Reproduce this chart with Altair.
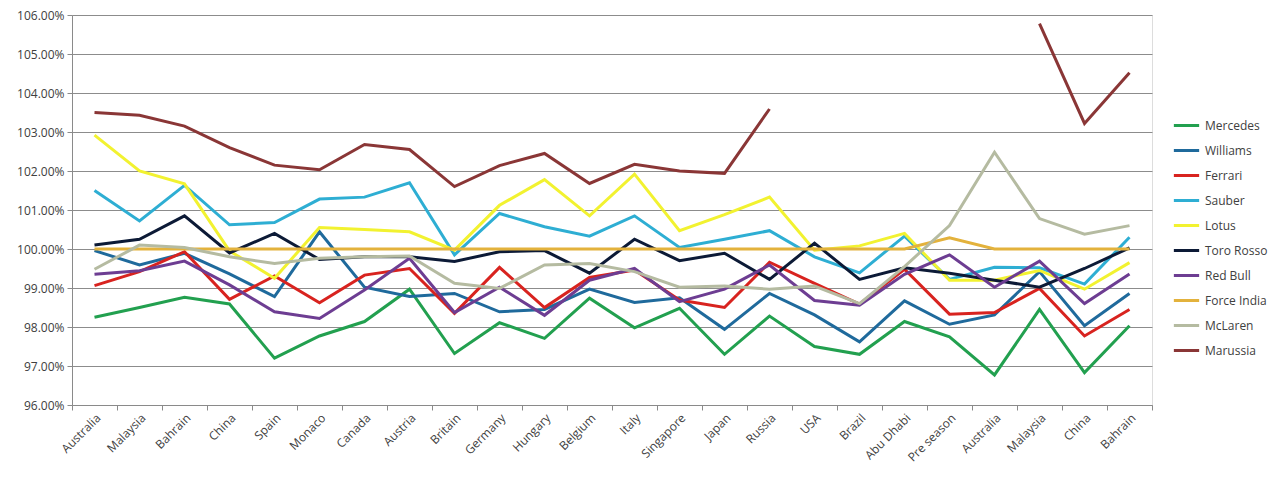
import altair as alt
import pandas as pd

races = ["Australia", "Malaysia", "Bahrain", "China", "Spain", "Monaco", "Canada",
         "Austria", "Britain", "Germany", "Hungary", "Belgium", "Italy", "Singapore",
         "Japan", "Russia", "USA", "Brazil", "Abu Dhabi", "Pre season", "Australia",
         "Malaysia", "China", "Bahrain"]

teams = ["Mercedes", "Williams", "Ferrari", "Sauber", "Lotus", "Toro Rosso",
         "Red Bull", "Force India", "McLaren", "Marussia"]

colors = ["#22a04f", "#1f6a9c", "#d8231f", "#2eaed3", "#f2f230", "#0c1a36",
          "#6d3d92", "#e3b23c", "#b5bba1", "#8a3636"]

mercedes = [98.25, 98.50, 98.76, 98.59, 97.20, 97.77, 98.14, 98.97, 97.32, 98.11, 97.71, 98.74,
            97.98, 98.48, 97.30, 98.28, 97.50, 97.30, 98.14, 97.75, 96.77, 98.45, 96.83, 98.03]
williams = [99.96, 99.59, 99.89, 99.36, 98.78, 100.44, 99.02, 98.78, 98.86, 98.39, 98.45, 98.97,
            98.63, 98.75, 97.94, 98.86, 98.31, 97.62, 98.67, 98.07, 98.31, 99.42, 98.03, 98.86]
ferrari = [99.06, 99.42, 99.93, 98.71, 99.31, 98.62, 99.33, 99.50, 98.35, 99.53, 98.50, 99.27,
           99.46, 98.69, 98.50, 99.66, 99.12, 98.59, 99.48, 98.33, 98.37, 98.99, 97.77, 98.45]
sauber = [101.50, 100.72, 101.63, 100.62, 100.68, 101.28, 101.33, 101.70, 99.85, 100.91, 100.57, 100.33,
          100.85, 100.04, 100.25, 100.47, 99.80, 99.39, 100.33, 99.22, 99.53, 99.52, 99.10, 100.30]
lotus = [102.92, 102.00, 101.67, 99.95, 99.25, 100.55, 100.50, 100.44, 99.97, 101.12, 101.78, 100.85,
         101.92, 100.47, 100.88, 101.33, 99.97, 100.08, 100.40, 99.20, 99.20, 99.45, 98.97, 99.65]
toro_rosso = [100.10, 100.25, 100.85, 99.90, 100.40, 99.73, 99.80, 99.80, 99.68, 99.93, 99.96, 99.38,
              100.25, 99.70, 99.89, 99.22, 100.15, 99.22, 99.52, 99.38, 99.20, 99.02, 99.50, 100.03]
red_bull = [99.35, 99.44, 99.69, 99.08, 98.39, 98.22, 98.95, 99.76, 98.37, 99.02, 98.30, 99.20,
            99.50, 98.65, 98.97, 99.59, 98.68, 98.56, 99.35, 99.85, 99.02, 99.69, 98.60, 99.36]
force_india = [100.00, 100.00, 100.00, 100.00, 100.00, 100.00, 100.00, 100.00, 100.00, 100.00, 100.00, 100.00,
               100.00, 100.00, 100.00, 100.00, 100.00, 100.00, 100.00, 100.29, 100.00, 100.00, 100.00, 100.00]
mclaren = [99.48, 100.10, 100.04, 99.80, 99.63, 99.76, 99.80, 99.82, 99.12, 98.99, 99.59, 99.63,
           99.42, 99.02, 99.05, 98.97, 99.05, 98.60, 99.55, 100.60, 102.48, 100.78, 100.38, 100.60]
marussia = [103.50, 103.43, 103.15, 102.60, 102.15, 102.03, 102.68, 102.55, 101.60, 102.14, 102.45, 101.68,
            102.17, 102.00, 101.94, 103.59, None, None, None, None, None, 105.78, 103.22, 104.52]

y_ticks = [96, 97, 98, 99, 100, 101, 102, 103, 104, 105, 106]

series = [mercedes, williams, ferrari, sauber, lotus, toro_rosso, red_bull,
          force_india, mclaren, marussia]

rows = []
for t, vals in zip(teams, series):
    for i, v in enumerate(vals):
        rows.append({"team": t, "idx": i, "value": v})
df = pd.DataFrame(rows)

label_array = "[" + ",".join('"%s"' % r for r in races) + "]"

chart = alt.Chart(df).mark_line(strokeWidth=3).encode(
    x=alt.X("idx:O",
            scale=alt.Scale(type="band", paddingInner=0, paddingOuter=0),
            axis=alt.Axis(title=None, labelAngle=-45, labelExpr=label_array + "[datum.value]",
                          tickBand="extent", grid=False, labelFontSize=12,
                          labelColor="#404040", domainColor="#8a8a8a", tickColor="#8a8a8a",
                          tickSize=5, labelPadding=2)),
    y=alt.Y("value:Q",
            scale=alt.Scale(domain=[96, 106], nice=False, zero=False),
            axis=alt.Axis(title=None, values=y_ticks,
                          labelExpr="format(datum.value, '.2f') + '%'",
                          gridColor="#8c8c8c", gridWidth=1, labelFontSize=12,
                          labelColor="#404040", domainColor="#8a8a8a", tickColor="#8a8a8a",
                          tickSize=5, labelPadding=3)),
    color=alt.Color("team:N",
                    scale=alt.Scale(domain=teams, range=colors),
                    legend=alt.Legend(title=None, orient="none", legendX=1100, legendY=96,
                                      symbolType="stroke", symbolSize=640, symbolStrokeWidth=3,
                                      rowPadding=4, labelFontSize=12, labelColor="#404040",
                                      labelOffset=4, padding=0)),
    detail="team:N",
).properties(
    width=1080, height=390,
    autosize=alt.AutoSizeParams(type="none"),
    padding={"left": 64, "top": 7, "right": 117, "bottom": 69},
).configure_view(
    stroke=None
).configure(
    font="Open Sans"
)

chart.save("out.html", embed_options={"renderer": "svg", "actions": False})
